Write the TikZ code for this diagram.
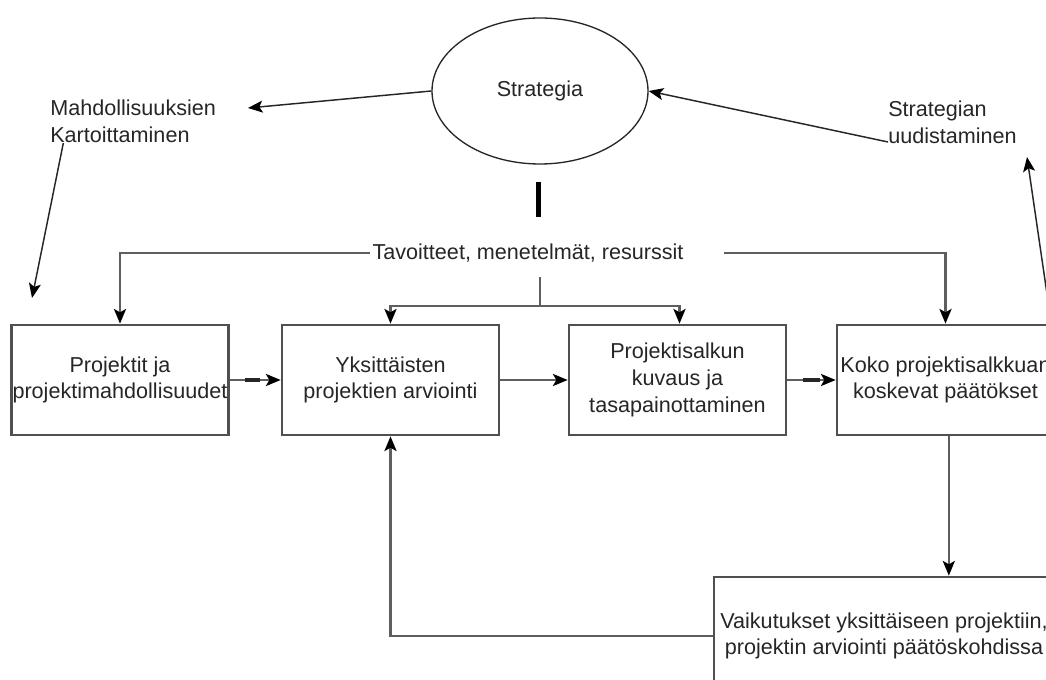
\documentclass[tikz,border=0pt]{standalone}
\usepackage{fontspec}
\setmainfont{Liberation Sans}
\usetikzlibrary{calc}
\usetikzlibrary{arrows.meta, shapes.geometric, positioning}
\definecolor{boxgray}{HTML}{505050}
\definecolor{linegray}{HTML}{5e5e5e}

\begin{document}
\begin{tikzpicture}[x=0.75pt, y=-0.75pt,
			every node/.style = {font=\fontsize{16.2pt}{20pt}\selectfont, text=black!85},
			stage/.style = {draw=boxgray, line width=2pt, minimum width=162.75pt, minimum height=82.5pt, inner sep=0pt, align=center},
			label/.style = {inner sep=0pt, align=left},
			flow/.style = {draw=linegray, line width=2pt, -{Stealth[length=11pt, width=9pt, inset=2.5pt, black]}},
			thin/.style = {draw=black!85, line width=1.1pt, -{Stealth[length=11pt, width=9pt, inset=2.5pt, black]}}
			]
			\useasboundingbox (0,0) rectangle (1046,680);
			\clip (0,0) rectangle (1046,680);
			
			\node[ellipse, draw=black!85, line width=1pt, minimum width=162pt, minimum height=109.5pt] (strat) at (540,91) {Strategia};
			\node[label, anchor=west] (mahd) at (50,121.5) {Mahdollisuuksien\\Kartoittaminen};
			\node[label, anchor=west] (uud) at (888,122) {Strategian\\uudistaminen};
			\node[inner sep=2pt] (tav) at (528,253) {Tavoitteet, menetelmät, resurssit};
			
			\node[stage] (proj) at (120,380) {Projektit ja\\projektimahdollisuudet};
			\node[stage] (yks) at (390.5,380) {Yksittäisten\\projektien arviointi};
			\node[stage] (salk) at (677.5,380) {Projektisalkun\\kuvaus ja\\tasapainottaminen};
			\node[stage] (koko) at (945.5,380) {Koko projektisalkkuan\\koskevat päätökset};
			\node[stage, minimum width=255pt, minimum height=88.5pt] (vaik) at (884,636) {Vaikutukset yksittäiseen projektiin,\\projektin arviointi päätöskohdissa};
			
			% strategia and its arrows
			\coordinate (mahdtip) at (248,108);
			\coordinate (mapdown) at (32,298);
			\coordinate (renewtip) at (1027,157);
			\draw[thin] (strat.west) -- (mahdtip);
			\draw[thin] ([yshift=-15]uud.west) -- (strat.east);
			\draw[thin] ([xshift=10]mahd.south west) -- (mapdown);
			\draw[thin] ([xshift=-3]koko.north east) -- (renewtip);
			\draw[line width=3.75pt] (538,182) -- (538,217);
			
			% goals down to the stages
			\coordinate (split) at (540,306);
			\draw[flow] (tav.west) -| (proj.north);
			\draw[flow] ([xshift=28]tav.east) -| (koko.north);
			\draw[draw=linegray, line width=2pt] ([yshift=-9]tav.south -| split) -- (split);
			\draw[flow] (split) -| (yks.north);
			\draw[flow] (split) -| ([xshift=1.5]salk.north);
			
			% stages
			\draw[flow] (proj.east) -- (yks.west);
			\draw[flow] (yks.east) -- (salk.west);
			\draw[flow] (salk.east) -- (koko.west);
			\draw[line width=3pt, draw=black!85] ($(proj.east)!0.3!(yks.west)$) -- ($(proj.east)!0.6!(yks.west)$);
			\draw[line width=3pt, draw=black!85] ($(salk.east)!0.33!(koko.west)$) -- ($(salk.east)!0.68!(koko.west)$);
			\draw[flow] ([xshift=2.5]koko.south) -- ([xshift=2.5]koko.south |- vaik.north);
			\draw[flow] (vaik.west) -| (yks.south);
		\end{tikzpicture}
\end{document}
